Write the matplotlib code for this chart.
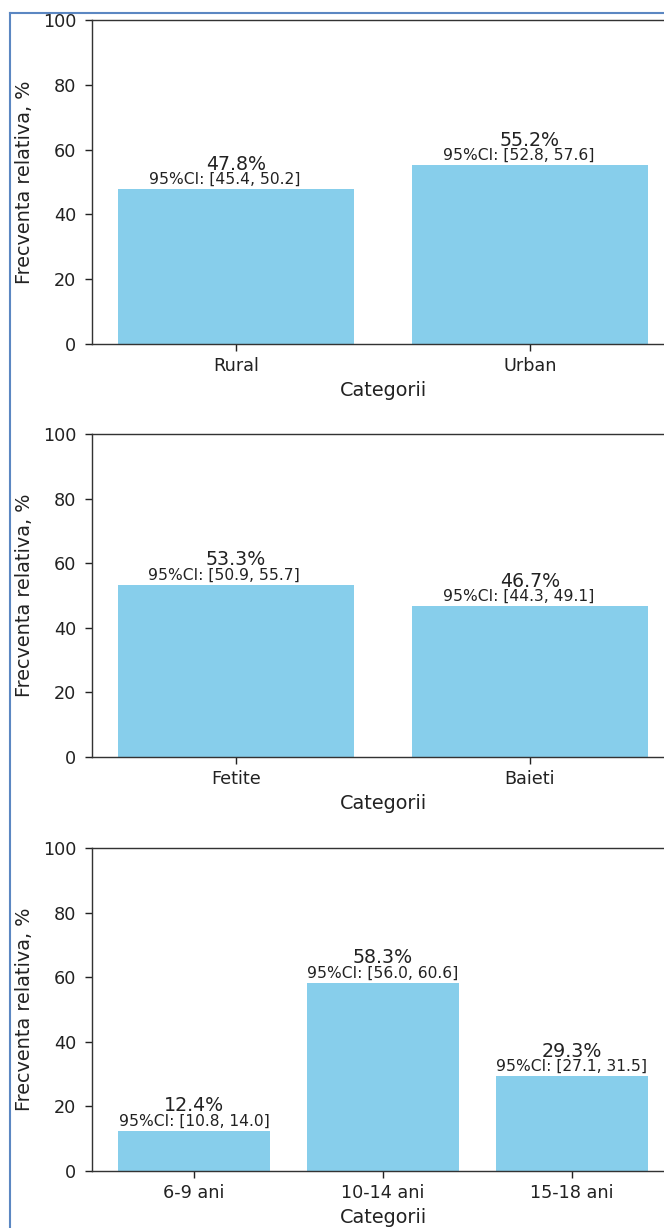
import matplotlib
matplotlib.use("Agg")
import matplotlib.pyplot as plt
from matplotlib.lines import Line2D

# ---- data ----
cats_area = ["Rural", "Urban"]
vals_area = [47.8, 55.2]
ci_area = [(45.4, 50.2), (52.8, 57.6)]

cats_sex = ["Fetite", "Baieti"]
vals_sex = [53.3, 46.7]
ci_sex = [(50.9, 55.7), (44.3, 49.1)]

cats_age = ["6-9 ani", "10-14 ani", "15-18 ani"]
vals_age = [12.4, 58.3, 29.3]
ci_age = [(10.8, 14.0), (56.0, 60.6), (27.1, 31.5)]

yticks = [0, 20, 40, 60, 80, 100]
ylabel = "Frecventa relativa, %"
xlabel = "Categorii"

W, H = 664, 1228
fig = plt.figure(figsize=(W / 100, H / 100), dpi=100)

S = 1.27
TICK_FS = 10 * S
LAB_FS = 10.9 * S
VAL_FS = 10.8 * S
CI_FS = 8.8 * S

panels = [
    (cats_area, vals_area, ci_area, 20, 344, -0.04),
    (cats_sex, vals_sex, ci_sex, 434, 757, -0.04),
    (cats_age, vals_age, ci_age, 848, 1171, 0.0),
]

left_px, right_px = 92, 674
for cats, vals, cis, top, bot, ci_off in panels:
    ax = fig.add_axes([left_px / W, 1 - bot / H, (right_px - left_px) / W, (bot - top) / H])
    x = list(range(len(cats)))
    ax.bar(x, vals, color="skyblue", width=0.8)
    ax.set_ylim(0, 100)
    ax.set_yticks(yticks)
    ax.set_xticks(x)
    ax.set_xticklabels(cats)
    ax.tick_params(labelsize=TICK_FS, length=5, width=0.8 * S, colors="#222222")
    ax.tick_params(axis="y", pad=6.5)
    ax.tick_params(axis="x", pad=4.5)
    for sp in ax.spines.values():
        sp.set_linewidth(0.8 * S)
        sp.set_color("#333333")
    ax.set_ylabel(ylabel, fontsize=LAB_FS, labelpad=6, color="#222222")
    ax.set_xlabel(xlabel, fontsize=LAB_FS, labelpad=4.5, color="#222222")
    for xi, v, (lo, hi) in zip(x, vals, cis):
        ax.text(xi, v + 4.8, f"{v}%", ha="center", va="bottom", fontsize=VAL_FS, color="#222222")
        ax.text(xi + ci_off, v + 0.7, f"95%CI: [{lo}, {hi}]", ha="center", va="bottom",
                fontsize=CI_FS, color="#222222")

# screenshot frame lines
fig.add_artist(Line2D([9.5 / W, 9.5 / W], [0, 1 - 12.5 / H], transform=fig.transFigure,
                      color="#5b87c2", linewidth=1.5))
fig.add_artist(Line2D([9.5 / W, 1], [1 - 12.5 / H, 1 - 12.5 / H], transform=fig.transFigure,
                      color="#5b87c2", linewidth=1.5))

fig.savefig("out.png", dpi=100)
